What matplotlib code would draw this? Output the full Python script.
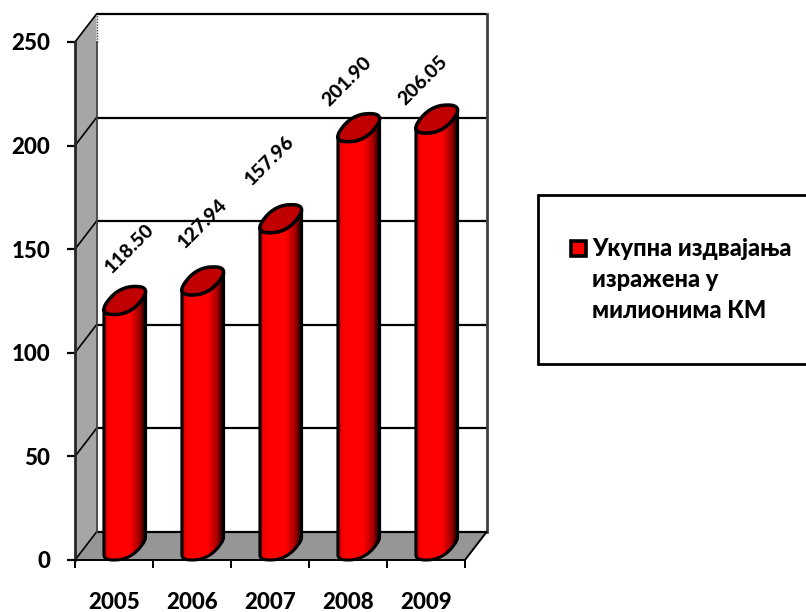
import numpy as np
import matplotlib
matplotlib.use("Agg")
import matplotlib.pyplot as plt
from matplotlib.path import Path
from matplotlib.patches import PathPatch, Rectangle
from matplotlib.colors import LinearSegmentedColormap

years = ["2005", "2006", "2007", "2008", "2009"]
values = [118.50, 127.94, 157.96, 201.90, 206.05]
value_labels = ["118.50", "127.94", "157.96", "201.90", "206.05"]
y_ticks = [0, 50, 100, 150, 200, 250]
legend_lines = ["Укупна издвајања", "изражена у", "милионима КМ"]

W, H = 806, 612
plt.rcParams["font.family"] = ["Lato", "Noto Sans", "DejaVu Sans"]
fig = plt.figure(figsize=(W / 100, H / 100), dpi=100)
L, R, T, B = 75, 465, 42, 560
ax = fig.add_axes([L / W, 1 - B / H, (R - L) / W, (B - T) / H])
ax.set_xlim(-0.5, 4.5)
ax.set_ylim(0, 250)
for s in ax.spines.values():
    s.set_visible(False)
ax.patch.set_alpha(0)

px = 5 / (R - L)            # category units per pixel
py = 250 / (B - T)          # value units per pixel
dx, dy = 21.5 * px, 28 * py  # depth vector
lw = 1.6

# walls and floor
ax.fill([-0.5, -0.5 + dx, -0.5 + dx, -0.5], [0, dy, 250 + dy, 250],
        color="#A6A6A6", lw=0, clip_on=False, zorder=1)
ax.fill([-0.5, 4.5, 4.5 + dx, -0.5 + dx], [0, 0, dy, dy],
        color="#969696", lw=0, clip_on=False, zorder=1)
# gridlines on the back and side walls
for v in y_ticks:
    ax.plot([-0.5, -0.5 + dx], [v, v + dy], color="black", lw=1.2, clip_on=False, zorder=2)
    ax.plot([-0.5 + dx, 4.5 + dx], [v + dy, v + dy], color="black", lw=lw,
            clip_on=False, zorder=2, solid_capstyle="butt")
# wall edges
ax.plot([-0.5, -0.5], [0, 250], color="#262626", lw=2, clip_on=False, zorder=2)
ax.plot([-0.5 + dx, -0.5 + dx], [dy, 250], color="#404040", lw=1.3, clip_on=False, zorder=2)
ax.plot([-0.5 + dx, -0.5 + dx], [250, 250 + dy], color="#404040", lw=1, ls=(0, (1, 1)),
        clip_on=False, zorder=2)
ax.plot([4.5 + dx, 4.5 + dx], [dy, 250 + dy], color="#404040", lw=2, clip_on=False, zorder=2)
ax.plot([4.5, 4.5 + dx], [0, dy], color="black", lw=1.4, clip_on=False, zorder=2)
ax.plot([-0.5, 4.5], [0, 0], color="black", lw=1.4, clip_on=False, zorder=2)

# cylinders
cmap = LinearSegmentedColormap.from_list(
    "cyl", [(0, "#B00000"), (0.08, "#F00000"), (0.2, "#FF0000"), (0.62, "#FF0000"),
            (0.85, "#A00000"), (1, "#000000")])
a = 16.5  # half width in px
sq = 0.82  # ring squareness
t0 = np.arctan2(dx / px / 2, a)
grad = np.linspace(0, 1, 128).reshape(1, -1)


def ring(xc, yc, t):
    c = np.sign(np.cos(t)) * np.abs(np.cos(t)) ** sq
    s_ = np.sign(np.sin(t)) * np.abs(np.sin(t)) ** sq
    return (xc + dx / 2 + a * px * c + dx / 2 * s_,
            yc + dy / 2 + dy / 2 * s_)


for i, v in enumerate(values):
    arc = np.linspace(t0 + np.pi, t0 + 2 * np.pi, 80)  # front half of the ring
    xb, yb = ring(i, 0, arc)
    xt, yt = ring(i, v, arc[::-1])
    verts = np.column_stack([np.r_[xb, xt], np.r_[yb, yt]])
    closed = Path(np.vstack([verts, verts[0]]), closed=True)
    ax.add_patch(PathPatch(closed, fc="none", ec="black", lw=2.2, clip_on=False,
                           zorder=4, joinstyle="round"))
    x0, x1 = verts[:, 0].min(), verts[:, 0].max()
    im = ax.imshow(grad, extent=[x0, x1, 0, v + dy], aspect="auto", cmap=cmap,
                   vmin=0, vmax=1, zorder=3)
    clip = PathPatch(closed, transform=ax.transData, fc="none", ec="none")
    ax.add_patch(clip)
    im.set_clip_path(clip)
    xe, ye = ring(i, v, np.linspace(0, 2 * np.pi, 160))
    ax.fill(xe, ye, fc="#C00000", ec="black", lw=2.5, clip_on=False, zorder=5)

ax.set_xlim(-0.5, 4.5)
ax.set_ylim(0, 250)

# axis ticks
ax.set_yticks(y_ticks)
ax.set_xticks(range(5))
ax.set_xticklabels(years)
ax.set_xticks(np.arange(-0.5, 5), minor=True)
ax.tick_params(axis="x", which="major", length=0, pad=23, labelsize=16)
ax.tick_params(axis="x", which="minor", length=5.5, width=1.4, color="black")
ax.tick_params(axis="y", length=5.5, width=1.6, color="black", pad=12.5, labelsize=16)
for t in ax.get_xticklabels() + ax.get_yticklabels():
    t.set_fontweight(900)

# rotated value labels
label_offsets = [(16, 66), (11, 71), (0, 72), (-1, 60), (-3, 53)]
for i, (v, s, off) in enumerate(zip(values, value_labels, label_offsets)):
    ax.annotate(s, (i, v), xytext=(off[0] * 0.72, off[1] * 0.72),
                textcoords="offset points", rotation=45, ha="center", va="center",
                fontsize=14, fontweight=900, rotation_mode="anchor",
                annotation_clip=False, zorder=6)

# legend box
fig.add_artist(Rectangle((537.5 / W, 1 - 364 / H), 270 / W, 169 / H, transform=fig.transFigure,
                         fc="white", ec="black", lw=2))
fig.add_artist(Rectangle((570.5 / W, 1 - 256 / H), 15 / W, 15 / H, transform=fig.transFigure,
                         fc="#FF0000", ec="black", lw=2.6))
for s, y in zip(legend_lines, [249, 280, 311]):
    fig.text(592 / W, 1 - y / H, s, fontsize=17, fontweight=900, va="center", ha="left")

fig.savefig("out.png", dpi=100, facecolor="white")
